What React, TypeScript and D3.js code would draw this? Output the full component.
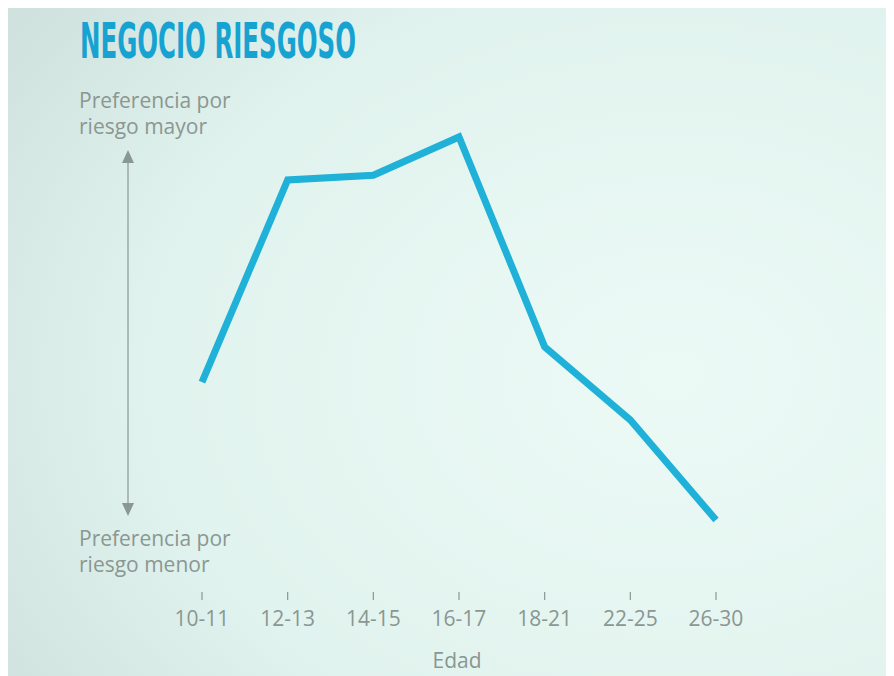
import { useEffect, useRef } from 'react';
import * as d3 from 'd3';

// Age groups along the x axis
const ageGroups = ['10-11', '12-13', '14-15', '16-17', '18-21', '22-25', '26-30'];
// Relative preference for risk (0 = lowest, 100 = highest)
const riskPreference = [36, 88.8, 90, 100, 45.2, 26.1, 0];

const title = 'NEGOCIO RIESGOSO';
const topLabel = ['Preferencia por', 'riesgo mayor'];
const bottomLabel = ['Preferencia por', 'riesgo menor'];
const xTitle = 'Edad';

export default function App() {
  const ref = useRef<SVGSVGElement>(null);

  useEffect(() => {
    const svg = d3.select(ref.current);
    svg.selectAll('*').remove();

    const W = 886;
    const H = 668;
    const gray = '#8a9792';
    const blue = '#1fb1d8';
    const font = "'Open Sans', 'Noto Sans', sans-serif";

    // paper background with a slight photo vignette
    const defs = svg.append('defs');
    const grad = defs
      .append('radialGradient')
      .attr('id', 'paper')
      .attr('cx', '75%')
      .attr('cy', '55%')
      .attr('r', '90%');
    grad.append('stop').attr('offset', '0%').attr('stop-color', '#ecfaf6');
    grad.append('stop').attr('offset', '65%').attr('stop-color', '#e1f3ee');
    grad.append('stop').attr('offset', '100%').attr('stop-color', '#d0e2dd');
    svg.append('rect').attr('width', W).attr('height', H).attr('fill', 'url(#paper)');

    // scales
    const x = d3.scalePoint().domain(ageGroups).range([194, 708]);
    const y = d3.scaleLinear().domain([0, 100]).range([512, 129]);

    // title
    svg
      .append('text')
      .attr('x', 72)
      .attr('y', 50)
      .attr('textLength', 276)
      .attr('lengthAdjust', 'spacingAndGlyphs')
      .attr('fill', '#17a3d2')
      .style('font-family', "'Liberation Sans Narrow', 'DejaVu Sans Condensed', 'Roboto', sans-serif")
      .style('font-weight', 700)
      .style('font-size', '50px')
      .text(title);

    // vertical arrow
    const ax = 120;
    svg
      .append('line')
      .attr('x1', ax)
      .attr('x2', ax)
      .attr('y1', 150)
      .attr('y2', 496)
      .attr('stroke', gray)
      .attr('stroke-opacity', 0.85)
      .attr('stroke-width', 1.4);
    svg
      .append('path')
      .attr('d', `M${ax},142 L${ax - 6},155 L${ax + 6},155 Z`)
      .attr('fill', gray);
    svg
      .append('path')
      .attr('d', `M${ax},508 L${ax - 6},495 L${ax + 6},495 Z`)
      .attr('fill', gray);

    // end labels
    const addLabel = (lines: string[], y0: number) => {
      svg
        .append('g')
        .selectAll('text')
        .data(lines)
        .join('text')
        .attr('x', 71)
        .attr('y', (d, i) => y0 + i * 26)
        .attr('fill', gray)
        .style('font-family', font)
        .style('font-size', '21px')
        .text((d) => d);
    };
    addLabel(topLabel, 100);
    addLabel(bottomLabel, 538);

    // x axis ticks and labels (no baseline)
    const axis = svg.append('g').attr('transform', 'translate(0,584)');
    axis
      .selectAll('line')
      .data(ageGroups)
      .join('line')
      .attr('x1', (d) => x(d)!)
      .attr('x2', (d) => x(d)!)
      .attr('y1', 0)
      .attr('y2', 8)
      .attr('stroke', gray)
      .attr('stroke-width', 1.2);
    axis
      .selectAll('text')
      .data(ageGroups)
      .join('text')
      .attr('x', (d) => x(d)!)
      .attr('y', 34)
      .attr('text-anchor', 'middle')
      .attr('fill', gray)
      .style('font-family', font)
      .style('font-size', '21px')
      .text((d) => d);

    svg
      .append('text')
      .attr('x', 449)
      .attr('y', 660)
      .attr('text-anchor', 'middle')
      .attr('fill', gray)
      .style('font-family', font)
      .style('font-size', '21px')
      .text(xTitle);

    // data line
    const line = d3
      .line<number>()
      .x((d, i) => x(ageGroups[i])!)
      .y((d) => y(d));
    svg
      .append('path')
      .datum(riskPreference)
      .attr('fill', 'none')
      .attr('stroke', blue)
      .attr('stroke-width', 7)
      .attr('stroke-linejoin', 'miter')
      .attr('d', line);
  }, []);

  return <svg ref={ref} width={886} height={668} style={{ display: 'block' }}></svg>;
}
